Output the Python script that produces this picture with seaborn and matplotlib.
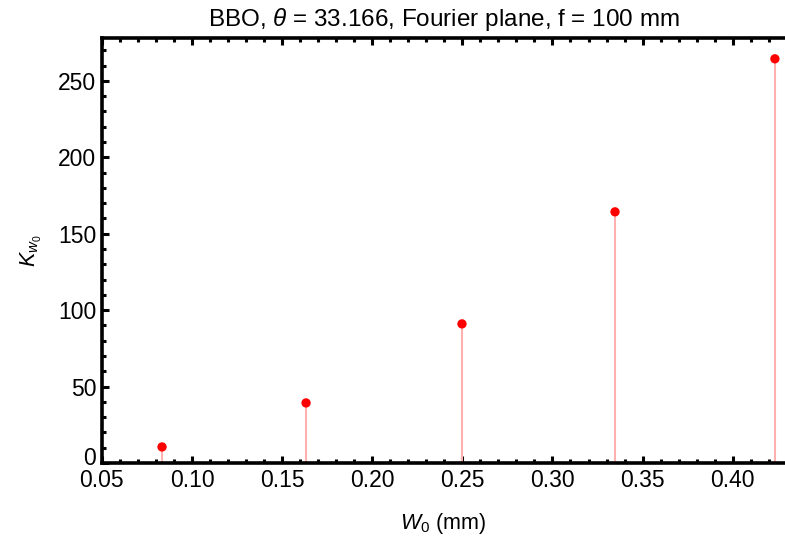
import matplotlib
matplotlib.use("Agg")
import matplotlib.pyplot as plt
import matplotlib.transforms as mtransforms
import seaborn as sns
import pandas as pd
from matplotlib.ticker import MultipleLocator

w0 = [0.0834, 0.1633, 0.2498, 0.3347, 0.4234]
k_w0 = [10.5, 39.3, 91.0, 164.3, 264.4]
x_ticks = [0.05, 0.10, 0.15, 0.20, 0.25, 0.30, 0.35, 0.40]
y_ticks = [0, 50, 100, 150, 200, 250]

sns.set_theme(style="white")
plt.rcParams['font.family'] = ['Liberation Sans', 'DejaVu Sans']
plt.rcParams['mathtext.fontset'] = 'custom'
plt.rcParams['mathtext.rm'] = 'Liberation Sans'
plt.rcParams['mathtext.it'] = 'Liberation Sans:italic'

df = pd.DataFrame({"w0": w0, "k": k_w0})

fig = plt.figure(figsize=(7.85, 5.4), dpi=100)
ax = fig.add_axes([0.1297, 0.1426, 0.8703, 0.787])

ax.vlines(df["w0"], 0, df["k"], color="#ffb0b0", lw=1.5, zorder=2)
sns.scatterplot(data=df, x="w0", y="k", ax=ax, color="red", s=45,
                edgecolor="none", zorder=3, clip_on=False)

ax.set_xlim(0.05, 0.429)
ax.set_ylim(0, 278)
ax.set_xticks(x_ticks)
ax.set_xticklabels([f"{v:.2f}" for v in x_ticks])
ax.set_yticks(y_ticks)
ax.xaxis.set_minor_locator(MultipleLocator(0.01))
ax.yaxis.set_minor_locator(MultipleLocator(10))

for side in ["left", "bottom", "top"]:
    ax.spines[side].set_visible(True)
    ax.spines[side].set_color("black")
    ax.spines[side].set_linewidth(2.6)
ax.spines["right"].set_visible(False)

ax.tick_params(which="both", direction="in", top=True, bottom=True,
               left=True, right=False, color="black", labelsize=16.5,
               labelcolor="black")
ax.tick_params(which="major", length=5, width=2.2, pad=4)
ax.tick_params(axis="x", which="major", pad=4)
ax.tick_params(which="minor", length=3, width=2.2)

# nudge the corner "0" label upward, as in the reference
fig.canvas.draw()
ylabs = ax.get_yticklabels()
ylabs[0].set_transform(ylabs[0].get_transform() +
                       mtransforms.ScaledTranslation(0, 7 / 100, fig.dpi_scale_trans))

ax.set_xlabel(r"$W_0$ (mm)", fontsize=15.5, color="black", labelpad=14)
ax.set_ylabel(r"$K_{w_0}$", fontsize=15.5, color="black", labelpad=10)
ax.set_title(r"BBO, $\theta$ = 33.166, Fourier plane, f = 100 mm",
             fontsize=17.5, color="black", pad=9)
ax.grid(False)

fig.savefig("out.png", dpi=100)
